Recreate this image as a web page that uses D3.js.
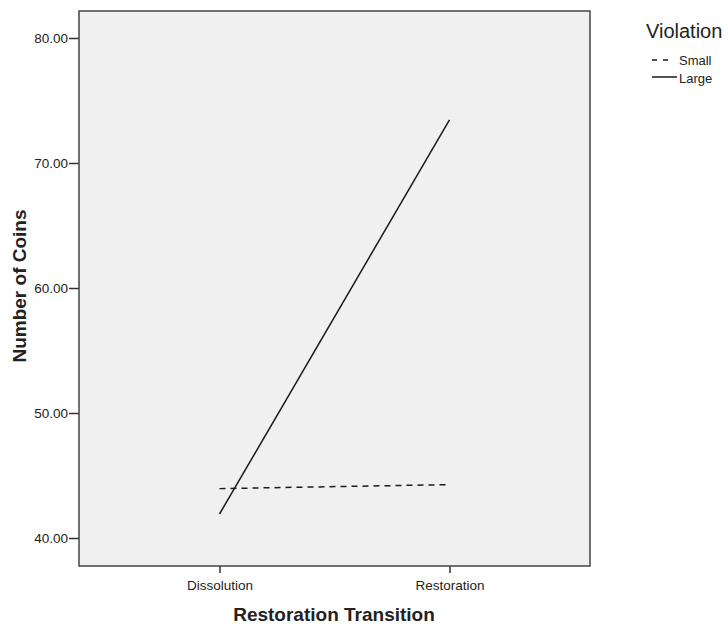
<!DOCTYPE html>
<html>
<head>
<meta charset="utf-8">
<script src="https://cdn.jsdelivr.net/npm/d3@7"></script>
<style>
	body { margin: 0; background: white; }
	text { font-family: "Liberation Sans", Arial, sans-serif; fill: #222; }
</style>
</head>
<body>
<script>
var categories = ['Dissolution', 'Restoration']
var groups = ['Small', 'Large']
var smallValues = [43.95, 44.27]
var largeValues = [41.92, 73.45]
var yTicks = [40, 50, 60, 70, 80]

var width = 728,
	height = 626

var margin = {top: 11, right: 138, bottom: 60, left: 79}
var plotW = width - margin.left - margin.right,
	plotH = height - margin.top - margin.bottom

var svg = d3.select('body').append('svg')
	.attr('width', width)
	.attr('height', height)

var g = svg.append('g')
	.attr('transform', 'translate(' + margin.left + ',' + margin.top + ')')

var x = d3.scalePoint()
	.domain(categories)
	.range([0, plotW])
	.padding(0.611)

var y = d3.scaleLinear()
	.domain([37.76, 82.16])
	.range([plotH, 0])

// plot background
g.append('rect')
	.attr('width', plotW)
	.attr('height', plotH)
	.attr('fill', '#f0f0f0')

var series = [
	{name: groups[0], values: smallValues, dash: '6,5', legendLen: 16},
	{name: groups[1], values: largeValues, dash: null, legendLen: 25}
]

var line = d3.line()
	.x((d, i) => x(categories[i]))
	.y(d => y(d))

g.selectAll('.series')
	.data(series)
	.enter()
	.append('path')
		.attr('class', 'series')
		.attr('d', d => line(d.values))
		.attr('fill', 'none')
		.attr('stroke', '#1a1a1a')
		.attr('stroke-width', 1.5)
		.attr('stroke-dasharray', d => d.dash)

// axes
var yAxis = g.append('g')
	.call(d3.axisLeft(y).tickValues(yTicks).tickFormat(d3.format('.2f')).tickSize(10).tickSizeOuter(0))
yAxis.select('.domain').remove()
yAxis.selectAll('line').attr('stroke', '#333').attr('stroke-width', 1.5)
yAxis.selectAll('text')
	.attr('x', -11)
	.style('font-size', '13.5px')
	.style('font-family', '"Liberation Sans", Arial, sans-serif')
	.attr('fill', '#222')

var xAxis = g.append('g')
	.attr('transform', 'translate(0,' + plotH + ')')
	.call(d3.axisBottom(x).tickSize(7).tickSizeOuter(0))
xAxis.select('.domain').remove()
xAxis.selectAll('line').attr('stroke', '#333').attr('stroke-width', 1.5)
xAxis.selectAll('text')
	.attr('y', 24)
	.attr('dy', 0)
	.style('font-size', '13.5px')
	.style('font-family', '"Liberation Sans", Arial, sans-serif')
	.attr('fill', '#222')

// frame
g.append('rect')
	.attr('width', plotW)
	.attr('height', plotH)
	.attr('fill', 'none')
	.attr('stroke', '#444')
	.attr('stroke-width', 1.5)

// axis titles
svg.append('text')
	.attr('transform', 'translate(' + (margin.left + 255) + ',' + 621 + ')')
	.attr('text-anchor', 'middle')
	.style('font-size', '19px')
	.style('font-weight', 'bold')
	.text('Restoration Transition')

svg.append('text')
	.attr('transform', 'translate(26,' + 286 + ') rotate(-90)')
	.attr('text-anchor', 'middle')
	.style('font-size', '19px')
	.style('font-weight', 'bold')
	.text('Number of Coins')

// legend
var legend = svg.append('g')

legend.append('text')
	.attr('x', 646)
	.attr('y', 38)
	.style('font-size', '20px')
	.text('Violation')

legend.selectAll('.legend-line')
	.data(series)
	.enter()
	.append('line')
		.attr('x1', 652)
		.attr('x2', d => 652 + d.legendLen)
		.attr('y1', (d, i) => 60 + i * 17)
		.attr('y2', (d, i) => 60 + i * 17)
		.attr('stroke', '#1a1a1a')
		.attr('stroke-width', 1.5)
		.attr('stroke-dasharray', d => d.dash ? '5,6' : null)

legend.selectAll('.legend-label')
	.data(series)
	.enter()
	.append('text')
		.attr('x', 679)
		.attr('y', (d, i) => 65 + i * 18)
		.style('font-size', '13px')
		.text(d => d.name)
</script>
</body>
</html>
